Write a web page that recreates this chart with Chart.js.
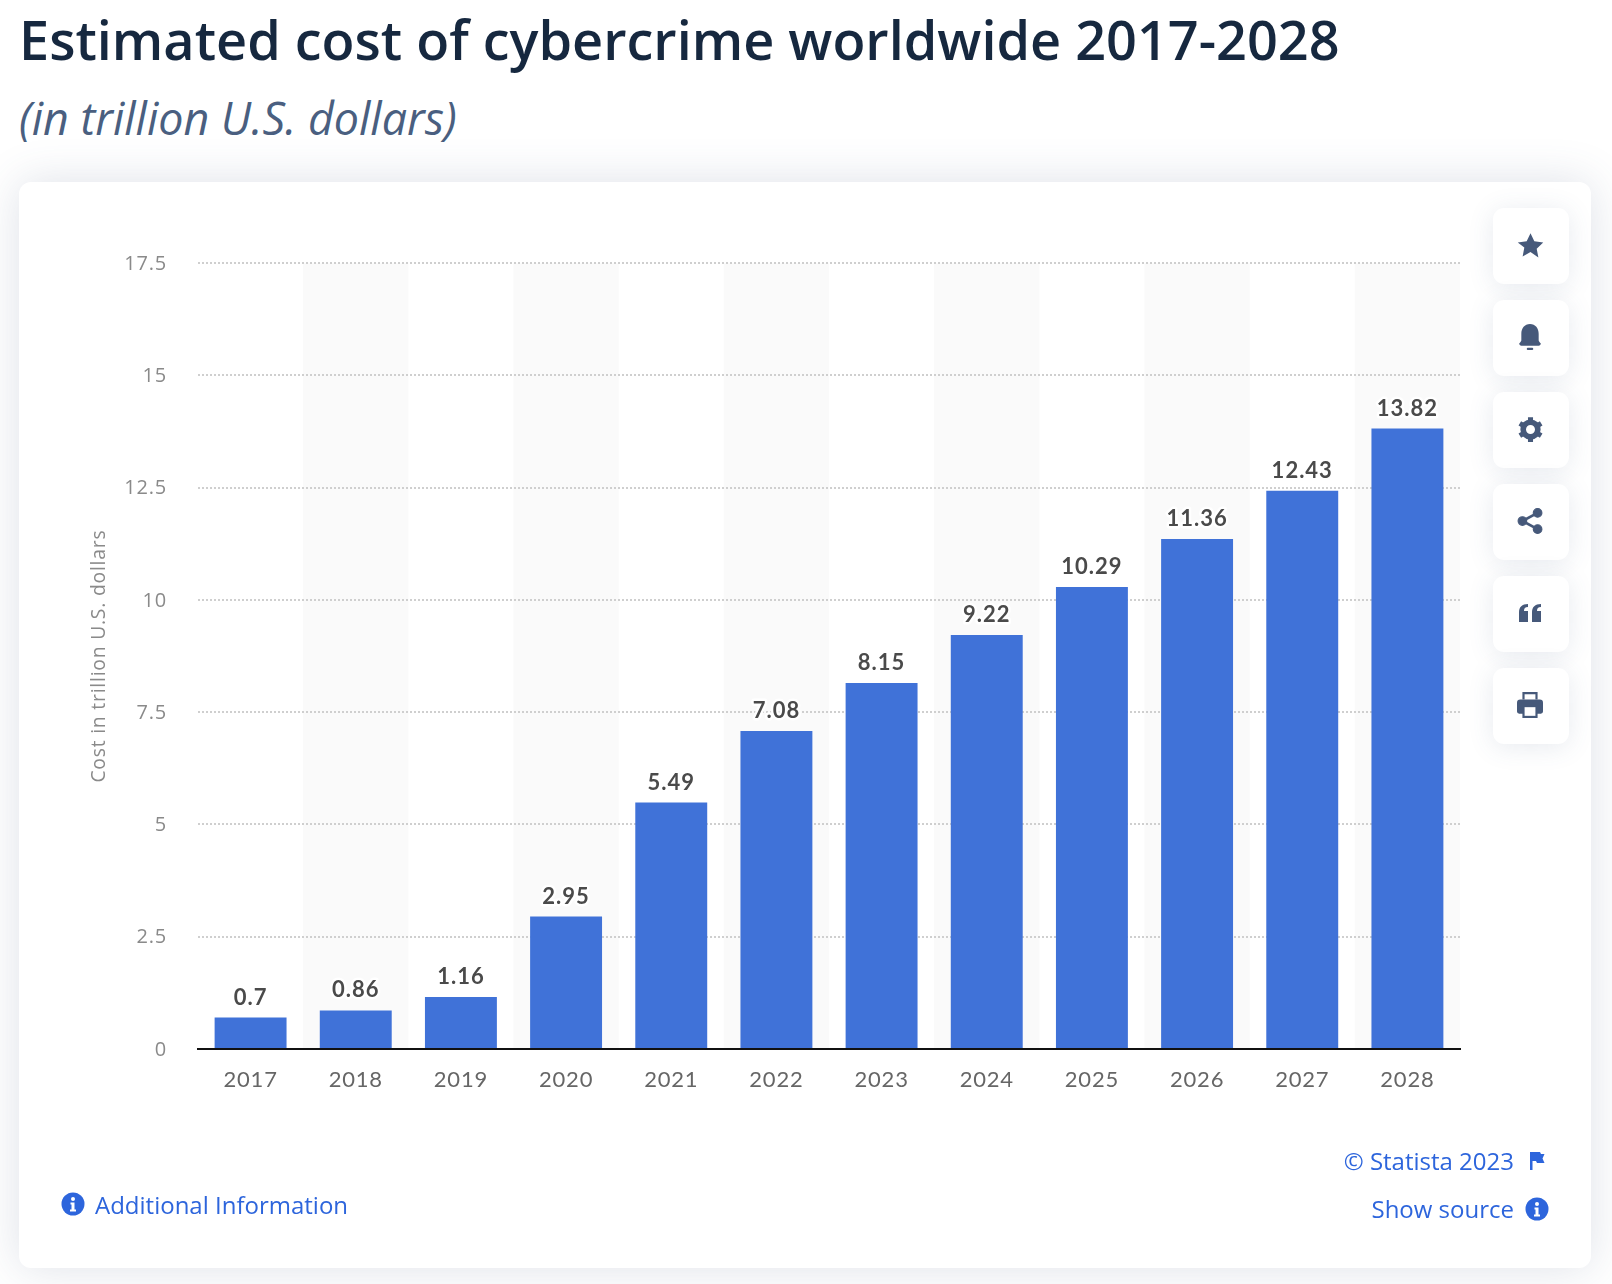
<!DOCTYPE html>
<html><head><meta charset="utf-8">
<script src="https://cdn.jsdelivr.net/npm/chart.js@4"></script>
<style>
html,body{margin:0;padding:0;background:#fff;width:1612px;height:1284px;overflow:hidden;font-family:"Open Sans",sans-serif}
.abs{position:absolute;white-space:nowrap}
#title{left:19px;top:3px;font-size:54px;line-height:72px;font-weight:600;color:#16283f}
#sub{left:19px;top:89px;font-size:44.800px;line-height:58px;font-style:italic;font-weight:400;color:#4a5f80}
#card{left:19px;top:182px;width:1572px;height:1086px;background:#fff;border-radius:12px;box-shadow:0 0 45px rgba(70,90,130,.18)}
canvas{position:absolute;left:0;top:0}
.btn{position:absolute;left:1493px;width:76px;height:76px;background:#fff;border-radius:11px;box-shadow:0 3px 26px rgba(70,90,130,.13);display:flex;align-items:center;justify-content:center}
.btn svg{transform:translate(-1px,-1px)}
.link{color:#2d65dc;font-size:24px;line-height:32px}
</style></head><body>
<div class="abs" id="title">Estimated cost of cybercrime worldwide 2017-2028</div>
<div class="abs" id="sub">(in trillion U.S. dollars)</div>
<div class="abs" id="card"></div>
<canvas id="c" width="1612" height="1284" style="width:1612px;height:1284px"></canvas>
<div class="btn" style="top:208px"><svg width="27" height="27" viewBox="0 0 24 24" fill="#46597a"><path d="M12 1l3.400 7.300 7.900 1-5.800 5.500 1.500 7.900L12 17.800l-7 3.900 1.500-7.900L.7 9.300l7.900-1z"/></svg></div>
<div class="btn" style="top:300px"><svg width="26" height="26" viewBox="0 0 24 24" fill="#46597a"><path d="M12 0c5 0 8 4 8 9v6c0 1 1 2 2 3 0 1-1 2-2 2H4c-1 0-2-1-2-2 1-1 2-2 2-3V9c0-5 3-9 8-9z"/><rect x="9" y="22" width="6" height="2" rx="1"/></svg></div>
<div class="btn" style="top:392px"><svg width="27" height="27" viewBox="0 0 24 24" fill="none" stroke="#46597a"><circle cx="12" cy="12" r="6.500" stroke-width="5"/><path d="M12 1v4M12 19v4M2.500 6.500l3.400 2M18.100 15.500l3.400 2M2.500 17.500l3.400-2M18.100 8.500l3.400-2" stroke-width="4.500"/></svg></div>
<div class="btn" style="top:484px"><svg width="26" height="26" viewBox="0 0 24 24" fill="#46597a" stroke="#46597a"><circle cx="19" cy="4.500" r="4"/><circle cx="19" cy="19.500" r="4"/><circle cx="5" cy="12" r="4"/><path d="M19 4.500L5 12l14 7.500" fill="none" stroke-width="2.500"/></svg></div>
<div class="btn" style="top:576px"><svg width="22" height="18" viewBox="0 0 22 18" fill="#46597a"><path d="M0 8c0-5 3-8 9-8v3c-3 0-4 1.500-4 4h4v11H0zM13 8c0-5 3-8 9-8v3c-3 0-4 1.500-4 4h4v11h-9z"/></svg></div>
<div class="btn" style="top:668px"><svg width="26" height="26" viewBox="0 0 24 24" fill="#46597a"><path d="M5 0h14v7h-2V2H7v5H5z"/><path d="M3 7h18a3 3 0 013 3v8a2 2 0 01-2 2h-3v4H5v-4H2a2 2 0 01-2-2v-8a3 3 0 013-3z"/><rect x="7" y="14" width="10" height="8" fill="#fff"/></svg></div>
<svg class="abs" style="left:61px;top:1192px" width="24" height="24" viewBox="0 0 24 24"><circle cx="12" cy="12" r="11.500" fill="#2d65dc"/><circle cx="12" cy="7" r="2" fill="#fff"/><path d="M9.500 10.500h4v7h1.500v2H9v-2h1.500v-5h-1z" fill="#fff"/></svg>
<div class="abs link" style="left:95px;top:1189px">Additional Information</div>
<div class="abs link" style="right:98px;top:1145px">© Statista 2023</div>
<svg class="abs" style="left:1528px;top:1151px" width="18" height="20" viewBox="0 0 18 20" fill="#2d65dc"><rect x="2" y="1" width="2.500" height="18"/><path d="M4 1h8l1 2h3.500l-2 4.500 2 4.500H9l-1-2H4z"/></svg>
<div class="abs link" style="right:98px;top:1193px">Show source</div>
<svg class="abs" style="left:1525px;top:1197px" width="24" height="24" viewBox="0 0 24 24"><circle cx="12" cy="12" r="11.500" fill="#2d65dc"/><circle cx="12" cy="7" r="2" fill="#fff"/><path d="M9.500 10.500h4v7h1.500v2H9v-2h1.500v-5h-1z" fill="#fff"/></svg>
<script>
const categories = ["2017","2018","2019","2020","2021","2022","2023","2024","2025","2026","2027","2028"];
const costTrillionUSD = [0.7,0.86,1.16,2.95,5.49,7.08,8.15,9.22,10.29,11.36,12.43,13.82];
const yTickValues = [0,2.5,5,7.5,10,12.5,15,17.5];
const axisTitle = "Cost in trillion U.S. dollars";

const stripes = {
  id:'stripes',
  beforeDraw(chart){
    const {ctx,chartArea:a,scales:{x}}=chart;
    ctx.letterSpacing='0.8px';
    ctx.save();ctx.fillStyle='#fafafa';
    const w=x.getPixelForValue(1)-x.getPixelForValue(0);
    categories.forEach((c,i)=>{
      if(i%2===1) ctx.fillRect(x.getPixelForValue(i)-w/2,a.top,w,a.bottom-a.top);
    });
    ctx.restore();
  }
};
const valueLabels = {
  id:'valueLabels',
  afterDatasetsDraw(chart){
    const {ctx}=chart;
    const meta=chart.getDatasetMeta(0);
    ctx.save();
    ctx.font='bold 22px Lato';
    ctx.letterSpacing='1px';
    ctx.textAlign='center';ctx.textBaseline='middle';
    meta.data.forEach((el,i)=>{
      const t=String(costTrillionUSD[i]);
      ctx.strokeStyle='rgba(255,255,255,.9)';ctx.lineWidth=5;ctx.lineJoin='round';
      ctx.strokeText(t,el.x,el.y-20);
      ctx.fillStyle='#4a4a4a';
      ctx.fillText(t,el.x,el.y-20);
    });
    ctx.restore();
  }
};
new Chart(document.getElementById('c'),{
  type:'bar',
  data:{labels:categories,datasets:[{data:costTrillionUSD,backgroundColor:'#4072d8',barPercentage:0.684,categoryPercentage:1}]},
  plugins:[stripes,valueLabels],
  options:{
    responsive:false,animation:false,devicePixelRatio:1,
    layout:{padding:{top:263.2,right:152,bottom:175,left:0}},
    plugins:{legend:{display:false},tooltip:{enabled:false},title:{display:false}},
    scales:{
      x:{
        grid:{display:false},
        border:{display:true,color:'#111',width:2},
        ticks:{color:'#666',font:{family:'Lato',size:22},padding:10,maxRotation:0},
        afterFit(s){s.height=60;}
      },
      y:{
        min:0,max:17.5,
        afterBuildTicks(s){s.ticks=yTickValues.map(v=>({value:v}));},
        grid:{color:'#cfcfcf',lineWidth:2,tickLength:0,drawTicks:false},
        border:{display:false,dash:[2,2]},
        ticks:{color:'#8a8a8a',font:{family:'"Open Sans"',size:20},padding:31,labelOffset:1,callback:v=>String(v)},
        title:{display:true,text:axisTitle,color:'#8a8a8a',font:{family:'"Open Sans"',size:19.3},padding:{top:87.5,bottom:0}},
        afterFit(s){s.width=198;}
      }
    }
  }
});
</script>
</body></html>
